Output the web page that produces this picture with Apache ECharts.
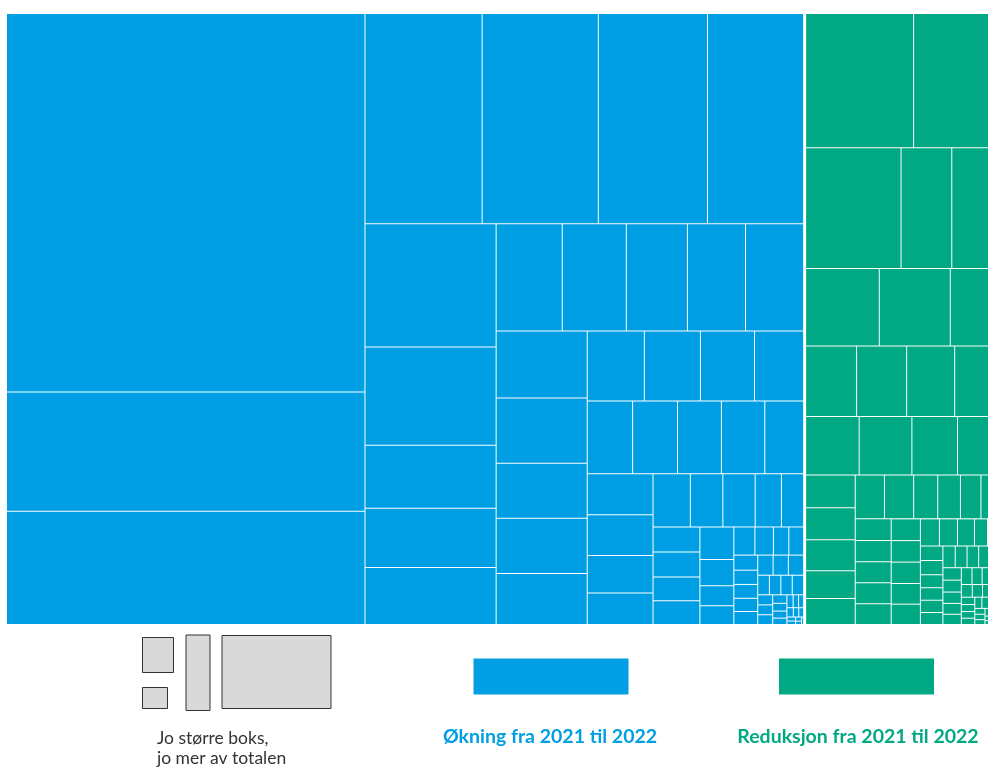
<!DOCTYPE html>
<html><head><meta charset="utf-8">
<script src="https://cdn.jsdelivr.net/npm/echarts@6/dist/echarts.min.js"></script>
<style>html,body{margin:0;padding:0;background:#fff;} #c{width:988px;height:767px;}</style>
</head><body><div id="c"></div>
<script>
const gruppeNavn = ['Økning fra 2021 til 2022', 'Reduksjon fra 2021 til 2022'];
const okningVerdier = [135324, 42602, 40454, 24570, 24360, 22890, 20160, 16113, 12838, 8253, 7729, 7467,
  7062, 6848, 6527, 6206, 6206, 6097, 5915, 5005, 5005, 4641, 3990, 3920, 3780, 3430, 3285, 3249, 3176, 3139, 2811,
  2690, 2690, 2460, 2060, 1982, 1728, 1717, 1394, 1180, 1175, 1160, 1115, 1109, 1100, 884, 680, 634, 592, 520, 432, 416,
  360, 340, 330, 316, 310, 308, 306, 306, 228, 224, 223, 222, 150, 147, 145, 120, 110, 100, 90, 80, 70, 65, 60, 50, 45,
  35, 30, 25, 20, 15];
const reduksjonVerdier = [14574, 11727, 11582, 6156, 5912, 5726, 5517, 3900, 3620, 3556, 3412, 3254, 3138, 3092, 2673, 2520,
  1636, 1591, 1551, 1386, 1292, 1290, 1290, 1062, 1002, 905, 863, 784, 766, 759, 757, 752, 637, 632, 627, 607, 597,
  519, 492, 464, 355, 355, 327, 323, 293, 283, 278, 271, 268, 258, 253, 243, 233, 230, 220, 210, 200, 190, 180, 170,
  160, 150, 140, 130, 120, 110, 100, 95, 90, 85, 80, 75, 70, 65, 60, 55, 50, 45, 40, 35, 30, 25, 20, 15, 12, 10, 8, 6, 5];
const forklaring = ['Jo større boks,', 'jo mer av totalen'];
const farger = ['#009fe3', '#00a884'];

function barn(verdier, prefiks) {
  return verdier.map(function (v, i) { return { name: prefiks + ' ' + (i + 1), value: v }; });
}

const chart = echarts.init(document.getElementById('c'), null, { renderer: 'canvas' });
const grå = { fill: '#d9d9d9', stroke: '#333', lineWidth: 1 };
chart.setOption({
  animation: false,
  series: [{
    type: 'treemap',
    left: 7, top: 14, width: 993, height: 610,
    roam: false, nodeClick: false,
    breadcrumb: { show: false },
    visibleMin: 1,
    label: { show: false },
    upperLabel: { show: false },
    emphasis: { disabled: true },
    itemStyle: { borderWidth: 0, gapWidth: 0, borderColor: '#fff' },
    levels: [
      { itemStyle: { borderWidth: 0, gapWidth: 3, borderColor: '#fff' } },
      { itemStyle: { borderWidth: 0, gapWidth: 1, borderColor: '#fff' } },
      { itemStyle: { borderWidth: 0, gapWidth: 0 } }
    ],
    data: [
      { name: gruppeNavn[0], itemStyle: { color: farger[0] }, children: barn(okningVerdier, 'Økning') },
      { name: gruppeNavn[1], itemStyle: { color: farger[1] }, children: barn(reduksjonVerdier, 'Reduksjon') }
    ]
  }],
  graphic: [
    { type: 'rect', shape: { x: 142.5, y: 637.5, width: 31, height: 35 }, style: grå },
    { type: 'rect', shape: { x: 142.5, y: 687.5, width: 25, height: 21 }, style: grå },
    { type: 'rect', shape: { x: 186, y: 635, width: 24, height: 75.5 }, style: grå },
    { type: 'rect', shape: { x: 222, y: 635.5, width: 109, height: 73 }, style: grå },
    { type: 'text', x: 157, y: 738, style: { text: forklaring[0], fontSize: 17.5, fontFamily: 'Lato', fill: '#333', align: 'left', verticalAlign: 'middle' } },
    { type: 'text', x: 157, y: 758, style: { text: forklaring[1], fontSize: 17.5, fontFamily: 'Lato', fill: '#333', align: 'left', verticalAlign: 'middle' } },
    { type: 'rect', shape: { x: 473.5, y: 658.5, width: 155, height: 36 }, style: { fill: farger[0] } },
    { type: 'rect', shape: { x: 779, y: 658.5, width: 155, height: 36 }, style: { fill: farger[1] } },
    { type: 'text', x: 550, y: 737, style: { text: gruppeNavn[0], fontSize: 19.5, fontWeight: 'bold', fontFamily: 'Lato', fill: farger[0], align: 'center', verticalAlign: 'middle' } },
    { type: 'text', x: 858, y: 737, style: { text: gruppeNavn[1], fontSize: 19.5, fontWeight: 'bold', fontFamily: 'Lato', fill: farger[1], align: 'center', verticalAlign: 'middle' } }
  ]
});
</script></body></html>
